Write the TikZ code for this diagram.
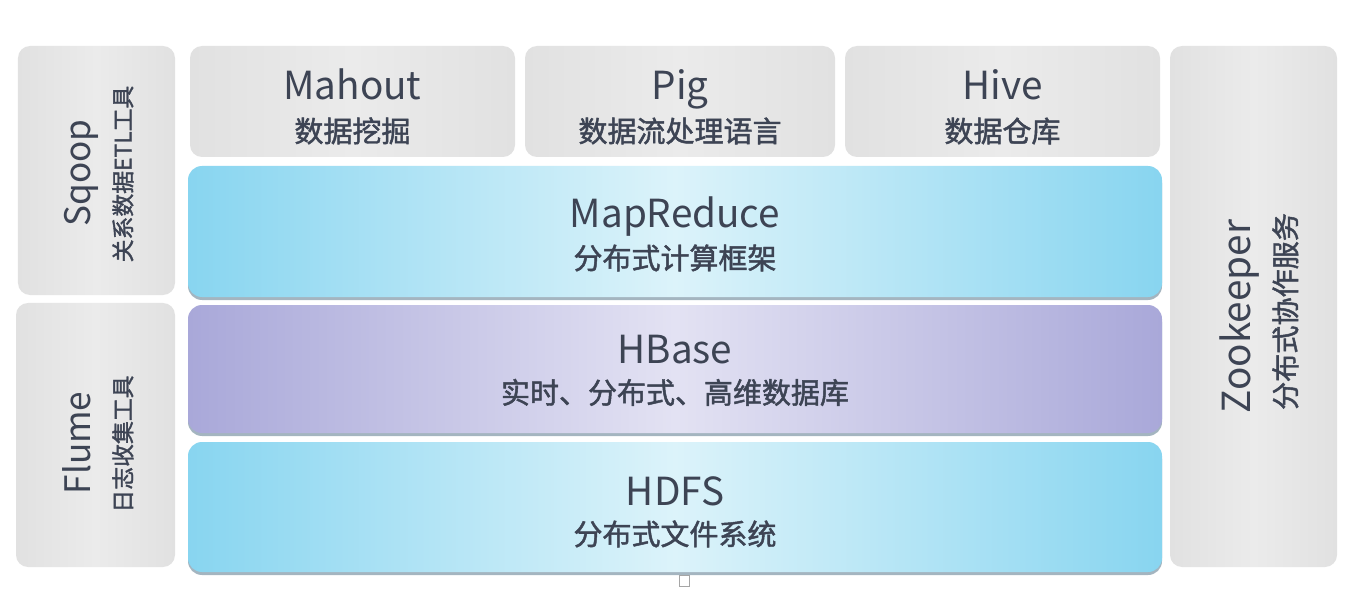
\documentclass[tikz,border=0pt]{standalone}
\usepackage{fontspec}
\setmainfont{Noto Sans CJK SC}
\newfontfamily\cjkheavy[FakeBold=1.6]{Noto Sans CJK SC}
\usetikzlibrary{shadows}
\definecolor{txt}{HTML}{3D4454}
\definecolor{boxgray}{HTML}{E1E1E1}
\definecolor{boxlite}{HTML}{EBEBEB}
\definecolor{cyanedge}{HTML}{88D5F0}
\definecolor{cyanmid}{HTML}{DCF3FA}
\definecolor{violetedge}{HTML}{A9A8D9}
\definecolor{violetmid}{HTML}{E3E2F3}
\definecolor{shadeline}{HTML}{7E97A6}

\begin{document}
\begin{tikzpicture}[
    tool/.style={rounded corners=0.24cm, inner sep=0, left color=boxgray, right color=boxgray, middle color=boxlite},
    layer/.style={rounded corners=0.28cm, inner sep=0, minimum width=19.48cm,
        drop shadow={shadow xshift=0cm, shadow yshift=-0.06cm, fill=shadeline, opacity=0.7}},
    cyanlayer/.style={layer, left color=cyanedge, right color=cyanedge, middle color=cyanmid},
    violetlayer/.style={layer, left color=violetedge, right color=violetedge, middle color=violetmid},
    title/.style={anchor=base, text=txt, font=\fontsize{22}{26}\selectfont},
    sub/.style={anchor=base, text=txt, font=\cjkheavy\fontsize{16.5}{20}\selectfont},
    vtitle/.style={anchor=base, rotate=90, text=txt, font=\fontsize{20}{24}\selectfont},
    vsub/.style={anchor=base, rotate=90, text=txt, font=\cjkheavy\fontsize{13}{16}\selectfont}
]
\fill[white] (0, 0) rectangle (27.32, -11.78);
\useasboundingbox (0, 0) rectangle (27.32, -11.78);

% Side tools
\node[tool, minimum width=3.14cm, minimum height=4.98cm] (sqoop) at (1.93, -3.41) {};
\node[vtitle] at ([xshift=-0.12cm, yshift=-0.05cm]sqoop.center) {Sqoop};
\node[vsub] at ([xshift=0.7cm, yshift=-0.07cm]sqoop.center) {关系数据ETL工具};

\node[tool, minimum width=3.18cm, minimum height=5.28cm] (flume) at (1.91, -8.70) {};
\node[vtitle] at ([xshift=-0.1cm, yshift=-0.16cm]flume.center) {Flume};
\node[vsub] at ([xshift=0.72cm, yshift=-0.18cm]flume.center) {日志收集工具};

\node[tool, minimum width=3.34cm, minimum height=10.42cm] (zookeeper) at (25.07, -6.13) {};
\node[vtitle, font=\fontsize{22}{26}\selectfont] at ([xshift=-0.07cm, yshift=-0.2cm]zookeeper.center) {Zookeeper};
\node[vsub, font=\cjkheavy\fontsize{16}{19}\selectfont] at ([xshift=0.85cm, yshift=-0.1cm]zookeeper.center) {分布式协作服务};

% Top row
\node[tool, minimum width=6.5cm, minimum height=2.22cm] (mahout) at (7.05, -2.03) {};
\node[title] at ([yshift=0.03cm]mahout.center) {Mahout};
\node[sub] at ([yshift=-0.81cm]mahout.center) {数据挖掘};

\node[tool, minimum width=6.2cm, minimum height=2.22cm] (pig) at (13.6, -2.03) {};
\node[title] at ([yshift=0.03cm]pig.center) {Pig};
\node[sub] at ([yshift=-0.81cm]pig.center) {数据流处理语言};

\node[tool, minimum width=6.3cm, minimum height=2.22cm] (hive) at (20.05, -2.03) {};
\node[title] at ([yshift=0.03cm]hive.center) {Hive};
\node[sub] at ([yshift=-0.81cm]hive.center) {数据仓库};

% Layers
\node[cyanlayer, minimum height=2.62cm] (mapreduce) at (13.5, -4.63) {};
\node[title] at ([yshift=0.09cm]mapreduce.center) {MapReduce};
\node[sub] at ([yshift=-0.75cm]mapreduce.center) {分布式计算框架};

\node[violetlayer, minimum height=2.56cm] (hbase) at (13.5, -7.38) {};
\node[title] at ([yshift=0.12cm]hbase.center) {HBase};
\node[sub] at ([yshift=-0.69cm]hbase.center) {实时、分布式、高维数据库};

\node[cyanlayer, minimum height=2.6cm] (hdfs) at (13.5, -10.14) {};
\node[title] at ([yshift=0.04cm]hdfs.center) {HDFS};
\node[sub] at ([yshift=-0.76cm]hdfs.center) {分布式文件系统};

\draw[gray!70] (13.58, -11.5) rectangle (13.78, -11.72);

\end{tikzpicture}
\end{document}
